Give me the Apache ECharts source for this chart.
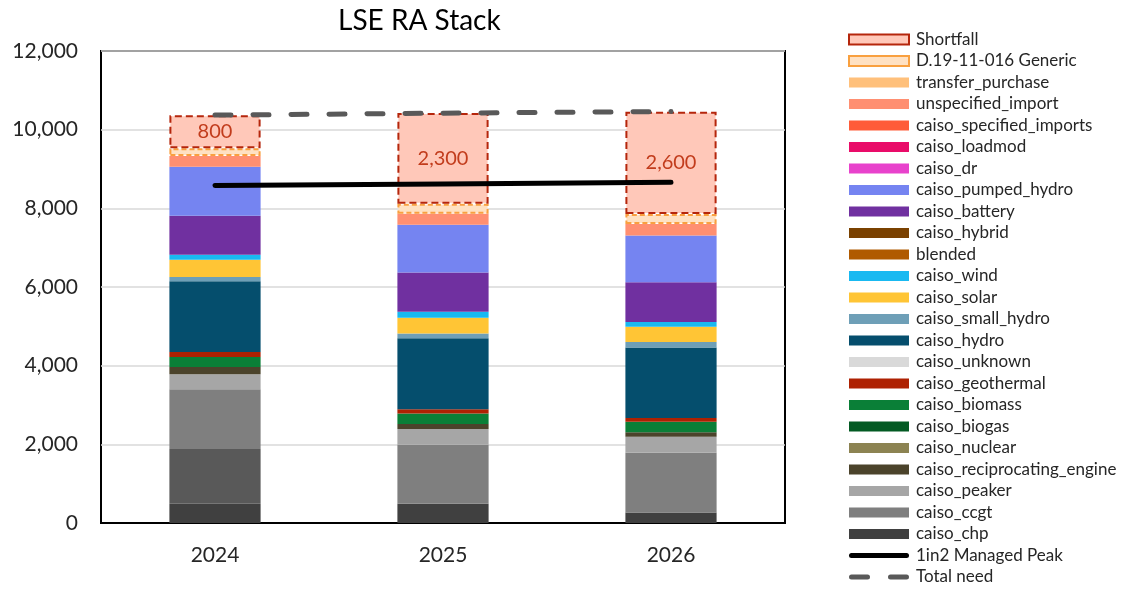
<!DOCTYPE html>
<html>
<head>
<meta charset="utf-8">
<script src="https://cdn.jsdelivr.net/npm/echarts@6/dist/echarts.min.js"></script>
<style>
html,body{margin:0;padding:0;background:#fff;}
#chart{width:1127px;height:589px;}
</style>
</head>
<body>
<div id="chart"></div>
<script>
// ---- data ----
const categories = ['2024', '2025', '2026'];
const yTicks = [0, 2000, 4000, 6000, 8000, 10000, 12000];

const caiso_chp = [490, 490, 265];
const caiso_other_gas = [1390, 0, 0];
const caiso_ccgt = [1520, 1500, 1520];
const caiso_peaker = [380, 400, 410];
const caiso_reciprocating_engine = [185, 125, 110];
const caiso_nuclear = [0, 0, 0];
const caiso_biogas = [0, 0, 0];
const caiso_biomass = [255, 270, 270];
const caiso_geothermal = [125, 110, 95];
const caiso_unknown = [0, 0, 0];
const caiso_hydro = [1800, 1800, 1790];
const caiso_small_hydro = [110, 120, 140];
const caiso_solar = [440, 405, 390];
const caiso_wind = [125, 150, 120];
const blended = [0, 0, 0];
const caiso_hybrid = [0, 0, 0];
const caiso_battery = [990, 1000, 1010];
const caiso_pumped_hydro = [1250, 1210, 1190];
const caiso_dr = [0, 0, 0];
const caiso_loadmod = [0, 0, 0];
const caiso_specified_imports = [0, 0, 0];
const unspecified_import = [270, 280, 290];
const transfer_purchase = [0, 0, 0];
const generic = [195, 255, 255];
const shortfall = [840, 2310, 2600];
const managedPeak = [8580, 8620, 8660];
const totalNeed = [10370, 10420, 10460];

// ---- series definitions (bottom to top) ----
const barDefs = [
  ['caiso_chp', caiso_chp, '#404040'],
  ['caiso_other', caiso_other_gas, '#595959'],
  ['caiso_ccgt', caiso_ccgt, '#7f7f7f'],
  ['caiso_peaker', caiso_peaker, '#a6a6a6'],
  ['caiso_reciprocating_engine', caiso_reciprocating_engine, '#4b432b'],
  ['caiso_nuclear', caiso_nuclear, '#8c8352'],
  ['caiso_biogas', caiso_biogas, '#035a23'],
  ['caiso_biomass', caiso_biomass, '#0a7f37'],
  ['caiso_geothermal', caiso_geothermal, '#ae2102'],
  ['caiso_unknown', caiso_unknown, '#d9d9d9'],
  ['caiso_hydro', caiso_hydro, '#054e6d'],
  ['caiso_small_hydro', caiso_small_hydro, '#6e9fb7'],
  ['caiso_solar', caiso_solar, '#ffc535'],
  ['caiso_wind', caiso_wind, '#19b9f1'],
  ['blended', blended, '#b05a00'],
  ['caiso_hybrid', caiso_hybrid, '#7a4100'],
  ['caiso_battery', caiso_battery, '#7030a0'],
  ['caiso_pumped_hydro', caiso_pumped_hydro, '#7584f1'],
  ['caiso_dr', caiso_dr, '#e842cc'],
  ['caiso_loadmod', caiso_loadmod, '#e90c69'],
  ['caiso_specified_imports', caiso_specified_imports, '#ff5c39'],
  ['unspecified_import', unspecified_import, '#ff8f71'],
  ['transfer_purchase', transfer_purchase, '#ffc07b']
];

const FONT = 'Lato, "Noto Sans", sans-serif';
const series = barDefs.map(([name, data, color]) => ({
  name, type: 'bar', stack: 'ra', data, barWidth: '40%',
  itemStyle: { color }, emphasis: { disabled: true }
}));

series.push({
  name: 'D.19-11-016 Generic', type: 'bar', stack: 'ra', data: generic, barWidth: '40%',
  itemStyle: { color: '#ffe1c2', borderColor: '#f9a03f', borderWidth: 2, borderType: [5, 3] },
  emphasis: { disabled: true }
});
series.push({
  name: 'Shortfall', type: 'bar', stack: 'ra', data: shortfall, barWidth: '40%',
  itemStyle: { color: '#ffc8b9', borderColor: '#b5260c', borderWidth: 2, borderType: [7, 4] },
  label: {
    show: true, position: 'inside', color: '#c23c1c', fontSize: 20, fontFamily: FONT,
    formatter: p => (Math.round(p.value / 100) * 100).toLocaleString('en-US')
  },
  emphasis: { disabled: true }
});
series.push({
  name: '1in2 Managed Peak', type: 'line', data: managedPeak, symbol: 'none', z: 5,
  itemStyle: { color: '#000' },
  lineStyle: { color: '#000', width: 5, cap: 'round' }, emphasis: { disabled: true }
});
series.push({
  name: 'Total need', type: 'line', data: totalNeed, symbol: 'none', z: 5,
  itemStyle: { color: '#595959' },
  lineStyle: { color: '#595959', width: 5, type: [16, 22], cap: 'round' }, emphasis: { disabled: true }
});

const legendNames = ['Shortfall', 'D.19-11-016 Generic', 'transfer_purchase', 'unspecified_import',
  'caiso_specified_imports', 'caiso_loadmod', 'caiso_dr', 'caiso_pumped_hydro', 'caiso_battery',
  'caiso_hybrid', 'blended', 'caiso_wind', 'caiso_solar', 'caiso_small_hydro', 'caiso_hydro',
  'caiso_unknown', 'caiso_geothermal', 'caiso_biomass', 'caiso_biogas', 'caiso_nuclear',
  'caiso_reciprocating_engine', 'caiso_peaker', 'caiso_ccgt', 'caiso_chp',
  '1in2 Managed Peak', 'Total need'];

const solidLineIcon = 'path://M2.5,0 L57.5,0 A2.5,2.5 0 0 1 57.5,5 L2.5,5 A2.5,2.5 0 0 1 2.5,0 Z';
const dashLineIcon = 'path://M2.5,0 L18.5,0 A2.5,2.5 0 0 1 18.5,5 L2.5,5 A2.5,2.5 0 0 1 2.5,0 Z ' +
  'M41.5,0 L57.5,0 A2.5,2.5 0 0 1 57.5,5 L41.5,5 A2.5,2.5 0 0 1 41.5,0 Z';

const legendData = legendNames.map(n => {
  if (n === '1in2 Managed Peak') return { name: n, icon: solidLineIcon, itemStyle: { color: '#000', borderWidth: 0 } };
  if (n === 'Total need') return { name: n, icon: dashLineIcon, itemStyle: { color: '#595959', borderWidth: 0 } };
  return { name: n, icon: 'rect' };
});

const chart = echarts.init(document.getElementById('chart'), null, { renderer: 'canvas' });
chart.setOption({
  animation: false,
  backgroundColor: '#fff',
  title: {
    text: 'LSE RA Stack', left: 333, top: 2,
    textStyle: { fontFamily: FONT, fontSize: 28, fontWeight: 'normal', color: '#000' }
  },
  grid: { left: 101, right: 342, top: 51, bottom: 66, show: true, borderColor: '#000', borderWidth: 2 },
  legend: {
    orient: 'vertical', left: 848, top: 31, padding: 0,
    itemWidth: 60, itemHeight: 10, itemGap: 4.5,
    textStyle: { fontFamily: FONT, fontSize: 17, color: '#262626', padding: [0, 0, 0, 2] },
    data: legendData
  },
  xAxis: {
    type: 'category', data: categories,
    axisLine: { show: true, lineStyle: { color: '#000', width: 2 } },
    axisTick: { show: false },
    axisLabel: { fontFamily: FONT, fontSize: 21, color: '#262626', margin: 22 }
  },
  yAxis: {
    type: 'value', min: yTicks[0], max: yTicks[yTicks.length - 1], interval: yTicks[1] - yTicks[0],
    axisLine: { show: false }, axisTick: { show: false },
    splitLine: { lineStyle: { color: '#d9d9d9', width: 1.5 } },
    axisLabel: {
      fontFamily: FONT, fontSize: 21, color: '#262626', margin: 23,
      formatter: v => v.toLocaleString('en-US')
    }
  },
  series
});
</script>
</body>
</html>
